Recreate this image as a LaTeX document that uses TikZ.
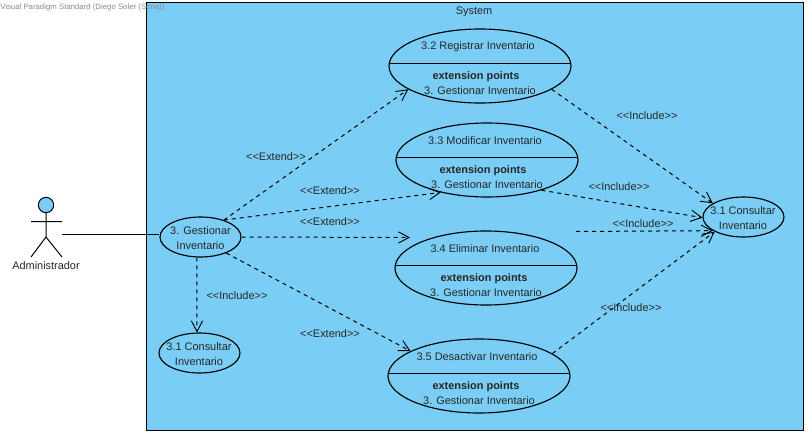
\documentclass[tikz,border=0pt]{standalone}
\usepackage{fontspec}
\setmainfont{Liberation Sans}
\usetikzlibrary{arrows.meta,shapes.geometric}
\definecolor{sysblue}{RGB}{122,206,245}
\tikzset{
  uc/.style={draw=black,ellipse,line width=0.85pt,inner sep=0pt,minimum width=60.75pt,minimum height=30pt,fill=sysblue},
  ucbig/.style={draw=black,ellipse,line width=0.85pt,inner sep=0pt,minimum width=136.5pt,minimum height=55.5pt,fill=sysblue},
  txt/.style={font=\fontsize{8.2pt}{11.5pt}\selectfont,text=black!85,inner sep=0pt,align=center,yshift=-0.75pt},
  txtb/.style={txt,font=\fontsize{8.2pt}{11.5pt}\selectfont\bfseries},
  dep/.style={draw=black,line width=0.75pt,dash pattern=on 3pt off 3pt,-{Straight Barb[length=8pt,width=8.5pt,line width=0.7pt]}},
  solidline/.style={draw=black,line width=0.75pt}
}
\begin{document}
\begin{tikzpicture}[x=0.75pt,y=-0.75pt]
\useasboundingbox (0,0) rectangle (808,436);
\fill[white] (0,0) rectangle (808,436);
\node[draw=black,line width=0.9pt,fill=sysblue,minimum width=492.4pt,minimum height=321pt,inner sep=0pt,anchor=north west] (sys) at (146,2) {};
\node[txt] (systitle) at (474,10.5) {System};
\node[anchor=west,inner sep=0pt,text=black!45,font=\fontsize{5.85pt}{7pt}\selectfont] (wm) at (0,7.5) {Visual Paradigm Standard (Diego Soler (Sena))};

% actor
\node[draw=black,circle,fill=sysblue,line width=0.75pt,minimum size=11.5pt,inner sep=0pt] (head) at (46,205) {};
\coordinate (hip) at (46,237);
\coordinate (armL) at (31,221.5);
\coordinate (armR) at (62,221.5);
\coordinate (footL) at (31,257);
\coordinate (footR) at (62,257);
\coordinate (assoc) at (62,234.5);
\draw[solidline] (head.south) -- (hip) (armL) -- (armR) (footL) -- (hip) -- (footR);
\node[txt] (admin) at (46,265) {Administrador};

% use cases
\node[uc] (g) at (200.5,237) {};
\node[txt] (gt) at (200.5,237) {3. Gestionar\\Inventario};
\node[uc] (low) at (199.5,353) {};
\node[txt] (lowt) at (199,353) {3.1 Consultar\\Inventario};
\node[uc] (r) at (743.5,217) {};
\node[txt] (rt) at (743,217) {3.1 Consultar\\Inventario};

\node[ucbig] (e2) at (480,66) {};
\node[ucbig] (e3) at (487,160) {};
\node[ucbig] (e4) at (486,268) {};
\node[ucbig] (e5) at (479,376) {};
\foreach \e in {e2,e3,e4,e5}
  \draw[solidline] (\e.center) ++(-90.7,-2.5) -- ++(181.4,0);

\node[txt] (t2) at (478,46) {3.2 Registrar Inventario};
\node[txtb] (x2) at (476,76) {extension points};
\node[txt] (p2) at (480,90) {3. Gestionar Inventario};
\node[txt] (t3) at (485,140) {3.3 Modificar Inventario};
\node[txtb] (x3) at (483,170) {extension points};
\node[txt] (p3) at (487,184) {3. Gestionar Inventario};
\node[txt] (t4) at (485,248) {3.4 Eliminar Inventario};
\node[txtb] (x4) at (484,278) {extension points};
\node[txt] (p4) at (486,292) {3. Gestionar Inventario};
\node[txt] (t5) at (477,356) {3.5 Desactivar Inventario};
\node[txtb] (x5) at (476,386) {extension points};
\node[txt] (p5) at (479,400) {3. Gestionar Inventario};

% connectors
\draw[solidline] (assoc) -- (assoc -| g.west);
\coordinate (e4in) at (410,237.5);
\coordinate (e4out) at (576,231.5);
\draw[dep] (g.36.7) -- (e2.198);
\draw[dep] (g.36.7) -- (e3.215);
\draw[dep] (g.east) -- (e4in);
\draw[dep] (g.-32.8) -- (e5.160);
\draw[dep] (g.260) -- (low.97);
\draw[dep] (e2.-18.2) -- (r.156.9);
\draw[dep] (e3.-29) -- (r.181.5);
\draw[dep] (e4out) -- (r.204.6);
\draw[dep] (e5.17.5) -- (r.207);

% labels
\node[txt] (l1) at (276,156) {<{}<Extend>{}>};
\node[txt] (l2) at (330,190) {<{}<Extend>{}>};
\node[txt] (l3) at (330,221) {<{}<Extend>{}>};
\node[txt] (l4) at (330,333) {<{}<Extend>{}>};
\node[txt] (l5) at (647,115) {<{}<Include>{}>};
\node[txt] (l6) at (619,186) {<{}<Include>{}>};
\node[txt] (l7) at (643,223) {<{}<Include>{}>};
\node[txt] (l8) at (237,295) {<{}<Include>{}>};
\node[txt] (l9) at (631,307) {<{}<Include>{}>};
\end{tikzpicture}
\end{document}
